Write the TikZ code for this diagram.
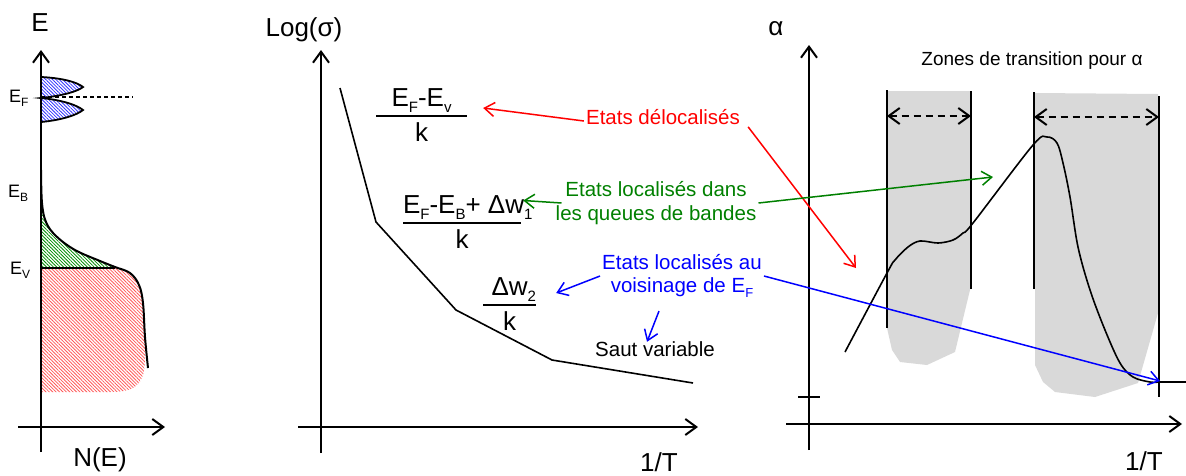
\documentclass[tikz,border=0pt]{standalone}
\usepackage{fontspec}
\setmainfont{Liberation Sans}
\usetikzlibrary{arrows.meta,patterns.meta}
\newcommand{\subtxt}[2][15]{\raisebox{-0.25em}{\fontsize{#1}{#1}\selectfont #2}}
\newcommand{\fracbox}[3]{{\setlength{\arrayrulewidth}{2pt}%
  \begin{tabular}{@{}c@{}}\makebox[#1][#2]{#3}\\\hline\rule{0pt}{24pt}k\end{tabular}}}
\tikzset{
  axis/.style      = {line width=2pt, -{Straight Barb[length=11pt,width=16pt]}},
  curve/.style     = {line width=1.6pt},
  border/.style    = {line width=2pt},
  gap/.style       = {line width=2pt, dash pattern=on 7pt off 5pt,
                      {Straight Barb[length=11pt,width=16pt]}-{Straight Barb[length=11pt,width=16pt]}},
  zone/.style      = {fill=gray!30},
  hatch/.style     = {pattern={Lines[angle=-45,distance=2.4pt,line width=0.8pt]}},
  biglabel/.style  = {font=\fontsize{26}{30}\selectfont, inner sep=1pt},
  bandlabel/.style = {font=\fontsize{18}{21}\selectfont, inner sep=0pt, anchor=base west},
  fracnode/.style  = {font=\fontsize{26}{30}\selectfont, inner sep=0pt},
  note/.style      = {font=\fontsize{20.5}{23.5}\selectfont, align=center, inner sep=2pt},
  pointer/.style   = {line width=1.5pt, -{Straight Barb[length=10pt,width=14pt]}}
}
\begin{document}
\begin{tikzpicture}[x=1pt,y=-1pt]
 \useasboundingbox (0,0) rectangle (1186,475);

 % density of states
 \fill[hatch, pattern color=red!65]
   (41,268) -- (115,268) -- plot[smooth] coordinates {(115,268) (130,273) (139,285) (143,303) (145,337) (145,358)}
   .. controls (145,385) and (135,392) .. (110,392) -- (41,392) -- cycle;
 \fill[hatch, pattern color=green!55!black]
   plot[smooth] coordinates {(41,192) (42,203) (46,222) (56,236) (75,250) (100,261) (115,268)} -- (41,268) -- cycle;
 \draw[line width=1.8pt, hatch, pattern color=blue!80]
   (41,77) .. controls (62,78) and (77,82) .. (83,87) .. controls (77,92) and (60,96) .. (41,98)
   .. controls (62,100) and (77,105) .. (83,110) .. controls (77,115) and (62,120) .. (41,122);
 \draw[line width=2pt] plot[smooth, tension=0.6] coordinates {(41,170) (42,203) (46,222) (56,236) (75,250)
   (100,261) (115,267) (130,273) (139,285) (143,303) (145,337) (148,368)};
 \draw[curve] (41,268) -- (115,268);
 \draw[curve, dash pattern=on 4pt off 3pt] (41,97) -- (133,97);
 \draw[axis] (41,452) -- (41,50);
 \draw[axis] (18,427) -- (165,427);
 \node[biglabel] (lblE) at (40,23) {E};
 \node[biglabel] (lblNE) at (100,460) {N(E)};
 \node[bandlabel] (lblEF) at (9,102) {E\subtxt[12]{F}};
 \node[bandlabel] (lblEB) at (8,197) {E\subtxt[12]{B}};
 \node[bandlabel] (lblEV) at (10,274) {E\subtxt[12]{V}};

 % conductivity
 \draw[axis] (321,453) -- (321,50);
 \draw[axis] (298,427) -- (698,427);
 \draw[curve] (340,88) -- (376,222) -- (456,310) -- (552,360) -- (693,383);
 \node[biglabel] (lblLog) at (304,30) {Log(σ)};
 \node[biglabel, anchor=base] (lblTa) at (659,471) {1/T};
 \node[fracnode] (fracA) at (421.5,117.5) {\fracbox{91pt}{c}{E\subtxt{F}-E\subtxt{v}}};
 \node[fracnode] (fracB) at (462,224.5) {\fracbox{118pt}{l}{E\subtxt{F}-E\subtxt{B}+ Δw\subtxt{1}}};
 \node[fracnode] (fracC) at (509.5,306.5) {\fracbox{53pt}{r}{Δw\subtxt{2}}};

 % thermopower
 \fill[zone] (887,91) -- (970,91) -- (970,290) -- (962,323) -- (955,352) -- (927,365)
   -- (900,362) -- (892,350) -- (887,328) -- cycle;
 \fill[zone] (1035,93) -- (1158,94) -- (1158,313) -- (1138,383) -- (1095,397) -- (1055,392)
   -- (1043,382) -- (1035,365) -- cycle;
 \draw[border] (887,90) -- (887,328);
 \draw[border] (971,91) -- (971,289);
 \draw[border] (1034,92) -- (1034,289);
 \draw[border] (1159,96) -- (1159,397);
 \draw[border] (1159,382) -- (1186,382);
 \draw[gap] (887,116) -- (971,116);
 \draw[gap] (1034,117) -- (1159,117);
 \draw[curve] (798,397) -- (820,397);
 \draw[axis] (809,450) -- (809,45);
 \draw[axis] (786,424) -- (1182,424);
 \draw[curve] plot[smooth, tension=0.55] coordinates {(845,352) (887,273) (895,260) (908,247) (920,241)
   (938,243) (953,240) (963,233) (973,223) (1033,145) (1047,137) (1057,143) (1063,163) (1070,197)
   (1078,247) (1090,290) (1105,330) (1120,363) (1133,377) (1150,382) (1159,382)};
 \node[biglabel] (lblAlpha) at (776,29) {α};
 \node[biglabel, anchor=base] (lblTb) at (1144,470) {1/T};
 \node[note, font=\fontsize{19}{22}\selectfont] (zones) at (1032,61) {Zones de transition pour α};

 % comments and pointers
 \node[note, red] (deloc) at (663,117) {Etats délocalisés};
 \node[note, green!50!black] (queues) at (656,203) {Etats localisés dans\\les queues de bandes};
 \node[note, blue] (voisin) at (682,276) {Etats localisés au\\voisinage de E\subtxt[13]{F}};
 \node[note] (saut) at (655,349) {Saut variable};
 \coordinate (tipDeloc) at (856,268);
 \coordinate (tipQueues) at (993,177);
 \coordinate (tipVoisin) at (1160,381);

 \draw[pointer, red] ([yshift=-4pt]deloc.west) -- ([xshift=16pt,yshift=9.5pt]fracA.east);
 \draw[pointer, red] ([xshift=6pt]deloc.south east) -- (tipDeloc);
 \draw[pointer, green!50!black] ([xshift=8pt]queues.west) -- ([xshift=2pt,yshift=24pt]fracB.east);
 \draw[pointer, green!50!black] (queues.east) -- (tipQueues);
 \draw[pointer, blue] (voisin.west) -- ([xshift=20pt,yshift=13.5pt]fracC.east);
 \draw[pointer, blue] ([xshift=-23pt,yshift=-11pt]voisin.south) -- ([xshift=-8pt,yshift=-2.5pt]saut.north);
 \draw[pointer, blue] (voisin.east) -- (tipVoisin);
\end{tikzpicture}
\end{document}
